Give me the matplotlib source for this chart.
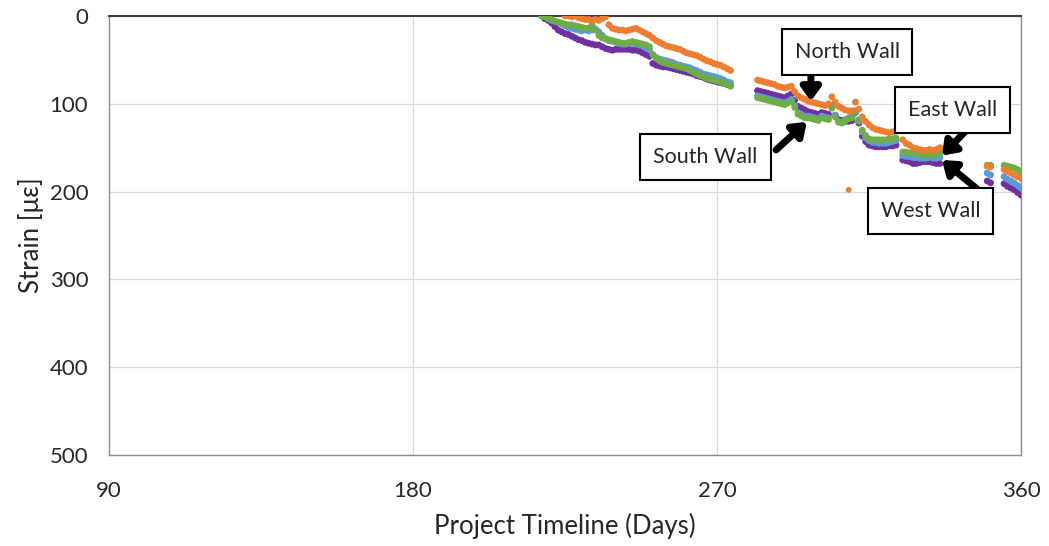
import numpy as np
import matplotlib
matplotlib.use("Agg")
import matplotlib.pyplot as plt

plt.rcParams['font.family'] = ['Lato', 'DejaVu Sans']

nan = np.nan

# ── data ──────────────────────────────────────────────────────────────────────
seg1_days = list(range(218, 275))
seg2_days = list(range(282, 324))
seg3_days = list(range(325, 337))
seg4_days = [350, 351, 355, 356, 357, 358, 359, 360]

north_seg1 = [nan] * 7 + [0, 0, 1, 0, 2, 3, 4, 4, 5, 4,
                          5, 3, 1, 10, 14, 15, 16, 16, 17, 16,
                          15, 14, 16, 18, 20, 22, 25, 28, 30, 32,
                          34, 35, 36, 37, 38, 40, 42, 43, 44, 45,
                          47, 49, 51, 52, 54, 55, 56, 58, 60, 62]
north_seg2 = [73, 74, 75, 76, 77, 78, 80, 81, 82, 81,
              80, 86, 91, 93, 95, 97, 98, 99, 100, 101,
              102, 100, 92, 98, 103, 105, 107, 108, 108, 98,
              106, 115, 120, 124, 127, 129, 130, 131, 132, 133,
              132, 130]
north_seg3 = [141, 145, 147, 150, 151, 152, 153, 153, 152, 153, 152, 150]
north_seg4 = [171, 172, 175, 177, 179, 181, 183, 185]
north_extra_day = [309]
north_extra = [198]

south_seg1 = [0, 1, 3, 4, 6, 7, 8, 9, 10, 10,
              11, 12, 13, 14, 14, 10, 16, 22, 25, 26,
              27, 28, 29, 30, 31, 31, 30, 29, 30, 31,
              32, 33, 35, 44, 48, 51, 53, 54, 55, 56,
              57, 58, 59, 60, 62, 64, 66, 68, 69, 71,
              72, 73, 74, 75, 77, 78, 80]
south_seg2 = [93, 94, 95, 96, 97, 98, 99, 100, 101, 99,
              97, 104, 112, 114, 116, 116, 117, 118, 119, 116,
              117, 118, 105, 115, 121, 122, 119, 117, 116, 109,
              120, 130, 136, 140, 141, 141, 141, 141, 141, 140,
              140, 139]
south_seg3 = [155, 155, 156, 156, 157, 157, 158, 158, 158, 158, 157, 157]
south_seg4 = [170, 170, 170, 171, 172, 173, 175, 177]

east_seg1 = [nan, nan, 3, 5, 6, 7, 9, 11, 13, 14,
             15, 16, 17, 16, 17, 16, 15, 18, 22, 26,
             28, 29, 30, 31, 32, 32, 31, 31, 32, 33,
             34, 36, 38, 44, 47, 49, 50, 51, 52, 53,
             55, 56, 57, 58, 59, 61, 62, 64, 66, 67,
             68, 69, 70, 71, 73, 75, 76]
east_seg2 = [91, 92, 93, 94, 95, 96, 97, 98, 99, 97,
             95, 102, 110, 112, 114, 114, 115, 116, 117, 114,
             115, 116, 104, 113, 120, 121, 118, 116, 114, 108,
             118, 132, 139, 142, 144, 144, 145, 145, 145, 144,
             143, 142]
east_seg3 = [159, 160, 160, 161, 161, 162, 162, 162, 161, 162, 162, 161]
east_seg4 = [179, 181, 183, 186, 188, 190, 193, 196]

west_seg1 = [nan, 3, 5, 8, 12, 16, 18, 20, 21, 23,
             25, 27, 28, 30, 31, 32, 33, 33, 35, 37,
             38, 39, 38, 38, 38, 38, 38, 39, 39, 40,
             42, 44, 46, 54, 56, 57, 58, 58, 59, 60,
             61, 62, 63, 64, 65, 66, 68, 69, 70, 72,
             73, 74, 75, 76, 77, 78, 79]
west_seg2 = [85, 86, 87, 88, 89, 90, 91, 92, 93, 91,
             89, 96, 103, 105, 107, 109, 110, 111, 112, 110,
             111, 112, 103, 113, 118, 119, 120, 120, 119, 110,
             122, 137, 143, 147, 148, 149, 149, 149, 149, 148,
             148, 147]
west_seg3 = [164, 165, 166, 168, 168, 167, 166, 166, 166, 167, 168, 168]
west_seg4 = [188, 190, 191, 194, 196, 198, 201, 204]

days = seg1_days + seg2_days + seg3_days + seg4_days
series = [
    ("West Wall", "#7030A0", west_seg1 + west_seg2 + west_seg3 + west_seg4, []),
    ("East Wall", "#5B9BD5", east_seg1 + east_seg2 + east_seg3 + east_seg4, []),
    ("South Wall", "#70AD47", south_seg1 + south_seg2 + south_seg3 + south_seg4, []),
    ("North Wall", "#ED7D31", north_seg1 + north_seg2 + north_seg3 + north_seg4,
     list(zip(north_extra_day, north_extra))),
]

# label text centre, arrow tail, arrow tip (day, strain)
labels = [
    ("North Wall", (308.5, 41), (297.8, 45), (297.8, 97)),
    ("South Wall", (266.6, 160.6), (287.5, 152.5), (296.6, 120.5)),
    ("East Wall", (339.8, 107), (344.0, 129.5), (336.6, 159)),
    ("West Wall", (333.3, 222), (347.3, 198), (336.6, 164)),
]

# ── figure ────────────────────────────────────────────────────────────────────
fig = plt.figure(figsize=(10.49, 5.46), dpi=100)
ax = fig.add_axes([0.1039, 0.1667, 0.8694, 0.804])

for name, color, vals, extra in series:
    ax.scatter(days, vals, s=24, color=color, edgecolors="none", zorder=3)
    if extra:
        ex, ey = zip(*extra)
        ax.scatter(ex, ey, s=18, color=color, edgecolors="none", zorder=3)

ax.set_xlim(90, 360)
ax.set_ylim(500, 0)
ax.set_xticks([90, 180, 270, 360])
ax.set_yticks([0, 100, 200, 300, 400, 500])
ax.grid(True, color="#d9d9d9", linewidth=0.9, zorder=0)
ax.tick_params(length=0, labelsize=16, labelcolor="#262626")
ax.tick_params(axis="x", pad=19)
ax.tick_params(axis="y", pad=15)
for side in ["left", "right", "bottom"]:
    ax.spines[side].set_color("#8c8c8c")
    ax.spines[side].set_linewidth(1.0)
ax.spines["top"].set_color("#404040")
ax.spines["top"].set_linewidth(1.5)

ax.set_xlabel("Project Timeline (Days)", fontsize=18.5, color="#262626", labelpad=8)
ax.set_ylabel("Strain [\u03bc\u03b5]", fontsize=18.5, color="#262626", labelpad=4)

for text, centre, tail, tip in labels:
    ax.annotate("", xy=tip, xytext=tail,
                arrowprops=dict(arrowstyle="-|>,head_length=0.55,head_width=0.4",
                                lw=5, color="black", mutation_scale=14,
                                shrinkA=0, shrinkB=0), zorder=4)
    ax.text(centre[0], centre[1], text, ha="center", va="center", fontsize=15.5,
            color="#262626", zorder=5,
            bbox=dict(boxstyle="square,pad=0.6", facecolor="white",
                      edgecolor="black", linewidth=1.5))

fig.savefig("out.png", dpi=100)
